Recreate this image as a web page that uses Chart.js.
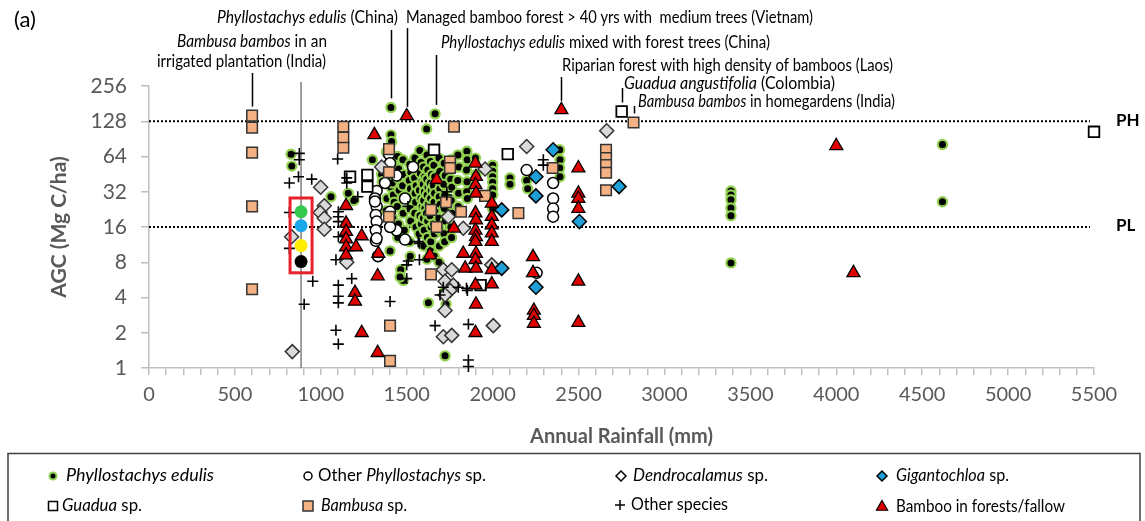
<!DOCTYPE html>
<html>
<head>
<meta charset="utf-8">
<script src="https://cdn.jsdelivr.net/npm/chart.js@4.4.1/dist/chart.umd.min.js"></script>
<style>
  body { margin: 0; background: #fff; }
  #wrap { width: 1145px; height: 521px; position: relative; }
</style>
</head>
<body>
<div id="wrap"><canvas id="myChart"></canvas></div>
<script>
// axis ticks
const xTicks = [0, 500, 1000, 1500, 2000, 2500, 3000, 3500, 4000, 4500, 5000, 5500];
const yTicks = [1, 2, 4, 8, 16, 32, 64, 128, 256];

// [annual rainfall (mm), AGC (Mg C/ha)]
const edulisPts = [
  [827,67],[831,53],[1059,29],[1160,31],[1192,27],[1300,60],
  [1408,168],[1408,98],[1412,86],[1354,45],[1358,39],[1408,35],[1403,10],[1616,110],[1665,148],
  [1465,6.9],[1480,5.6],[1461,6.0],[1626,3.6],[1723,1.27],[1729,3.5],
  [1382,70],[1377,52],[1385,28],[1380,22],
  [1418,58],[1424,46],[1416,38],[1422,30],[1427,26],[1419,19],
  [1447,64],[1453,50],[1449,42],[1456,33],[1445,24],[1452,17],[1448,13],
  [1478,60],[1484,45],[1476,36],[1483,29],[1479,21],[1486,15],
  [1518,55],[1524,47],[1515,40],[1522,34],[1527,28],[1519,23],[1523,18],[1516,12],[1521,9],
  [1548,62],[1553,50],[1546,42],[1555,36],[1549,31],[1552,26],[1547,21],[1554,16],
  [1576,72],[1584,57],[1579,46],[1588,39],[1574,33],[1583,28],[1590,24],[1577,20],[1585,17],[1572,14],
  [1598,52],[1604,43],[1596,37],[1603,32],[1599,27],[1606,23],[1597,19],[1602,15],[1600,11],
  [1618,66],[1623,49],[1617,41],[1624,35],[1619,30],[1626,25],[1615,21],[1622,18],[1620,13],[1618,8.5],
  [1638,58],[1644,45],[1637,38],[1643,33],[1639,28],[1645,24],[1636,20],[1642,16],[1640,12],[1638,10],
  [1658,54],[1663,43],[1656,36],[1662,31],[1659,26],[1664,22],[1657,17],[1661,14],[1660,9],
  [1688,62],[1694,48],[1686,40],[1693,34],[1689,29],[1695,25],[1687,19],[1692,15],[1690,11],[1688,8],
  [1718,56],[1724,44],[1716,37],[1722,30],[1719,23],[1725,18],[1717,14],[1721,12],[1720,4.5],
  [1758,60],[1764,50],[1756,41],[1762,35],[1759,27],[1765,21],[1757,16],[1761,13],
  [1798,66],[1804,52],[1797,40],[1802,31],[1800,24],
  [1850,71],[1852,60],[1848,49],[1851,39],[1849,32],[1853,28],
  [1900,62],[1904,45],
  [2000,54],[2000,48],[2000,43],[2000,38.5],[2000,34],[2000,30],[2000,23],
  [2101,42],[2101,37],[2198,40],[2204,34],
  [2390,73],[2392,60],[2390,51],[2392,43],
  [3387,32.5],[3387,30],[3387,27.4],[3387,23.3],[3387,20],[3387,7.9],
  [4618,81],[4618,26.3]
];
const otherPhylPts = [
  [1397,67],[1403,56],[1403,47],[1441,44],[1374,38],[1325,32.5],[1315,28],[1325,24],[1320,20.3],
  [1325,17.8],[1320,15],[1320,12.2],[1325,12.8],[1403,21.6],[1441,15],[1490,12.5],[1490,28],[1537,52],
  [1333,9],[1403,16],[1315,26.4],[2198,49],[2352,38],[2352,28],[2352,23],[2352,19.6],[2256,6.5]
];
const dendroPts = [
  [999,35],[1020,24.3],[996,21.3],[1020,19],[1020,15.3],[830,13.2],[1151,8],[834,1.38],[1354,52],
  [1742,19.6],[1829,15.6],[1713,6.9],[1762,6.9],[1723,5.5],[1771,5.1],[1752,4.6],[1723,4.2],[1723,3.1],
  [1713,1.85],[1762,1.9],[2198,78],[1995,7.6],[2004,2.3],[2664,106],[1956,50]
];
const gigantoPts = [
  [2352,73],[2252,43],[2252,29.5],[2053,22.4],[2053,7.1],[2252,4.9],[2505,17.8],[2736,35.4]
];
const guaduaPts = [
  [1659,73],[1170,43],[1271,44.6],[1271,35.4],[2088,67],[2751,155],[1930,5.1],[5500,104]
];
const bambusaPts = [
  [600,143],[600,113],[600,69],[600,24],[600,4.7],[1131,115],[1131,93],[1131,76],[1403,2.3],[1403,1.15],
  [1641,22.4],[1641,6.3],[1752,58],[1752,51],[1816,21.6],[1775,115],[1729,26],[1674,16],[1397,19.6],
  [1397,74],[1397,47],[1956,29.5],[2150,21],[2349,51],[2660,73],[2660,62],[2660,54],[2660,46.5],
  [2660,33],[2820,125]
];
const otherSpPts = [
  [875,68],[875,60],[870,43],[817,38],[817,21.3],[817,10.5],[953,5.5],[903,3.5],[947,41],[1098,61],
  [1151,42],[1151,38],[1215,29],[1102,21.6],[1102,19.6],[1102,17.8],[1102,13.2],[1088,8.4],[1180,5.8],
  [1102,5.1],[1102,4.1],[1102,3.6],[1088,2.1],[1102,1.6],[1403,3.7],[1507,24],[1574,11.6],[1574,8.4],
  [1500,7.6],[1500,5.8],[1665,2.3],[1733,32],[1733,30],[1713,4.9],[1509,8.2],[1859,1.17],[1859,1.03],
  [1859,2.36],[1694,4.2],[1800,4.9],[1567,12],[2295,60],[2295,54],[1848,4.8],[1853,4.6]
];
const forestPts = [
  [1312,98],[1147,24.3],[1147,17.2],[1147,14.6],[1147,12.6],[1147,10.8],[1147,9.2],[1238,13.4],[1205,10.8],
  [1335,9.5],[1331,6.1],[1199,4.4],[1199,3.7],[1238,2.0],[1331,1.35],[1500,142],[1674,40.5],[1775,15.6],
  [1829,9.5],[1840,7.1],[1635,9.2],
  [1900,56],[1903,43],[1900,36.6],[1903,31],[1900,21],[1903,18.3],[1900,15],[1903,13.2],[1900,12],
  [1903,9.5],[1900,8.4],[1903,7.1],[1900,5.1],[1903,3.5],[1900,2.0],
  [1995,25.5],[1995,19.6],[1995,16.6],[1995,14.2],[1995,12],[1995,6.9],[1995,5.2],
  [2235,8.9],[2235,6.5],[2240,3.1],[2240,2.8],[2240,2.4],
  [2499,51],[2499,31],[2499,28],[2499,23],[2499,5.5],[2499,2.44],
  [2400,160],[4000,79],[4100,6.5]
];
// coloured points highlighted in the red box
const highlightPts = [[885,21.6],[885,16.4],[885,11.1],[885,8.1]];
const highlightColors = ['#33c84e', '#18a7ea', '#ffee00', '#000000'];

// reference lines PH / PL and the grey rainfall marker
const refValues = [128, 16];
const refLabels = ['PH', 'PL'];
const markerRainfall = 885;

// annotated studies: point the leader line ends on
const annotPts = [[600,143],[1408,168],[1500,142],[1670,148],[2400,160],[2751,155],[2820,125]];
const annotTops = [73, 30, 28, 55, 77, 88, 106];

const toXY = arr => arr.map(p => ({x: p[0], y: p[1]}));

const annotations = [
  {parts: [['Phyllostachys edulis', true], [' (China)', false]], x: 217, y: 18, w: 181},
  {parts: [['Managed bamboo forest > 40 yrs with  medium trees (Vietnam)', false]], x: 406, y: 18, w: 407},
  {parts: [['Bambusa bambos', true], [' in an', false]], x: 177, y: 42, w: 150},
  {parts: [['irrigated plantation (India)', false]], x: 157, y: 62, w: 169},
  {parts: [['Phyllostachys edulis', true], [' mixed with forest trees (China)', false]], x: 441, y: 43, w: 329},
  {parts: [['Riparian forest with high density of bamboos (Laos)', false]], x: 562, y: 66, w: 331},
  {parts: [['Guadua angustifolia', true], [' (Colombia)', false]], x: 624, y: 84, w: 211},
  {parts: [['Bambusa bambos', true], [' in homegardens (India)', false]], x: 638, y: 102, w: 257}
];

const legendItems = [
  {kind: 'circle', fill: '#000', stroke: '#92d050', lw: 2, s: 3.5, parts: [['Phyllostachys edulis', true]], mx: 53, tx: 66, y: 476, w: 148},
  {kind: 'circle', fill: '#fff', stroke: '#000', lw: 1.5, s: 4, parts: [['Other ', false], ['Phyllostachys', true], [' sp.', false]], mx: 308, tx: 318, y: 476, w: 168},
  {kind: 'rectRot', fill: '#fff', stroke: '#000', lw: 1.5, s: 5, parts: [['Dendrocalamus', true], [' sp.', false]], mx: 621, tx: 633, y: 476, w: 135},
  {kind: 'rectRot', fill: '#1f9fd8', stroke: '#000', lw: 1.5, s: 5, parts: [['Gigantochloa', true], [' sp.', false]], mx: 882, tx: 896, y: 476, w: 113},
  {kind: 'rect', fill: '#fff', stroke: '#000', lw: 1.5, s: 4.5, parts: [['Guadua', true], [' sp.', false]], mx: 53, tx: 62, y: 506, w: 80},
  {kind: 'rect', fill: '#f4b183', stroke: '#333', lw: 1.5, s: 5, parts: [['Bambusa', true], [' sp.', false]], mx: 308, tx: 321, y: 506, w: 86},
  {kind: 'cross', fill: '#000', stroke: '#000', lw: 1.5, s: 5, parts: [['Other species', false]], mx: 620, tx: 631, y: 505, w: 97},
  {kind: 'triangle', fill: '#e00000', stroke: '#000', lw: 1.2, s: 6.5, parts: [['Bamboo in forests/fallow', false]], mx: 882, tx: 896, y: 507, w: 169}
];

const FONT = 'Lato';

function partsWidth(ctx, parts, size) {
  let w = 0;
  parts.forEach(p => {
    ctx.font = (p[1] ? 'italic ' : '') + size + 'px ' + FONT;
    w += ctx.measureText(p[0]).width;
  });
  return w;
}
// draw mixed italic / roman text squeezed to a target width (Calibri-like proportions)
function drawFitted(ctx, parts, x, y, size, target) {
  const w = partsWidth(ctx, parts, size);
  const sx = target / w;
  ctx.save();
  ctx.translate(x, y);
  ctx.scale(sx, 1);
  let cx = 0;
  parts.forEach(p => {
    ctx.font = (p[1] ? 'italic ' : '') + size + 'px ' + FONT;
    ctx.fillText(p[0], cx, 0);
    cx += ctx.measureText(p[0]).width;
  });
  ctx.restore();
}
function drawMarker(ctx, kind, x, y, s, fill, stroke, lw) {
  ctx.save();
  ctx.beginPath();
  ctx.fillStyle = fill; ctx.strokeStyle = stroke; ctx.lineWidth = lw;
  if (kind === 'circle') ctx.arc(x, y, s, 0, Math.PI * 2);
  else if (kind === 'rect') ctx.rect(x - s, y - s, 2 * s, 2 * s);
  else if (kind === 'rectRot') { ctx.moveTo(x - s, y); ctx.lineTo(x, y - s); ctx.lineTo(x + s, y); ctx.lineTo(x, y + s); ctx.closePath(); }
  else if (kind === 'triangle') { ctx.moveTo(x, y - s); ctx.lineTo(x + s * 0.866, y + s * 0.5); ctx.lineTo(x - s * 0.866, y + s * 0.5); ctx.closePath(); }
  else if (kind === 'cross') { ctx.moveTo(x - s, y); ctx.lineTo(x + s, y); ctx.moveTo(x, y - s); ctx.lineTo(x, y + s); }
  if (kind !== 'cross') ctx.fill();
  ctx.stroke();
  ctx.restore();
}

const extras = {
  id: 'extras',
  beforeDatasetsDraw(chart) {
    const ctx = chart.ctx, xs = chart.scales.x, ys = chart.scales.y;
    ctx.save();
    // grey vertical line
    const gx = xs.getPixelForValue(markerRainfall);
    ctx.strokeStyle = '#7f7f7f'; ctx.lineWidth = 1.5;
    ctx.beginPath(); ctx.moveTo(gx, 82); ctx.lineTo(gx, ys.bottom); ctx.stroke();
    // dotted PH / PL lines
    ctx.strokeStyle = '#000'; ctx.lineWidth = 2; ctx.setLineDash([2, 2]);
    refValues.forEach(v => {
      const py = ys.getPixelForValue(v);
      ctx.beginPath(); ctx.moveTo(xs.left, py); ctx.lineTo(1090, py); ctx.stroke();
    });
    ctx.restore();
  },
  afterDatasetsDraw(chart) {
    const ctx = chart.ctx, xs = chart.scales.x, ys = chart.scales.y;
    ctx.save();
    // red box round the highlighted points
    ctx.strokeStyle = '#e8202a'; ctx.lineWidth = 3;
    const bx = xs.getPixelForValue(markerRainfall);
    ctx.strokeRect(bx - 11, ys.getPixelForValue(28.3), 22, ys.getPixelForValue(6.5) - ys.getPixelForValue(28.3));

    // PH / PL labels
    ctx.fillStyle = '#000'; ctx.textBaseline = 'middle';
    ctx.font = 'bold 17px ' + FONT;
    refValues.forEach((v, i) => ctx.fillText(refLabels[i], 1116, ys.getPixelForValue(v) - 1));

    // panel label
    drawFitted(ctx, [['(a)', false]], 14, 20, 21, 22);

    // annotations
    annotations.forEach(a => drawFitted(ctx, a.parts, a.x, a.y, 16.5, a.w));
    // leader lines
    ctx.strokeStyle = '#000'; ctx.lineWidth = 1.5;
    annotPts.forEach((p, i) => {
      const px = Math.round(xs.getPixelForValue(p[0])) + 0.5;
      const py = ys.getPixelForValue(p[1]);
      ctx.beginPath(); ctx.moveTo(px, annotTops[i]); ctx.lineTo(px, py - 9); ctx.stroke();
    });

    // legend box
    ctx.strokeStyle = '#404040'; ctx.lineWidth = 1.5;
    ctx.beginPath(); ctx.moveTo(8, 530); ctx.lineTo(8, 453.5); ctx.lineTo(1140, 453.5); ctx.lineTo(1140, 530); ctx.stroke();
    legendItems.forEach(it => {
      drawMarker(ctx, it.kind, it.mx, it.y, it.s, it.fill, it.stroke, it.lw);
      ctx.fillStyle = '#000';
      drawFitted(ctx, it.parts, it.tx, it.y, 17, it.w);
    });
    ctx.restore();
  }
};

const ctx = document.getElementById('myChart');

new Chart(ctx, {
  type: 'scatter',
  data: {
    datasets: [
      {label: 'highlight', data: toXY(highlightPts), pointStyle: 'circle', pointRadius: 6.5,
        backgroundColor: highlightColors, borderColor: highlightColors, borderWidth: 0, order: 0},
      {label: 'Bamboo in forests/fallow', data: toXY(forestPts), pointStyle: 'triangle', pointRadius: 7.5,
        backgroundColor: '#e00000', borderColor: '#000', borderWidth: 1.3, order: 1},
      {label: 'Other species', data: toXY(otherSpPts), pointStyle: 'cross', pointRadius: 5.5,
        backgroundColor: '#000', borderColor: '#000', borderWidth: 1.6, order: 2},
      {label: 'Bambusa sp.', data: toXY(bambusaPts), pointStyle: 'rect', pointRadius: 7.5,
        backgroundColor: '#f4b183', borderColor: '#333', borderWidth: 1.5, order: 3},
      {label: 'Guadua sp.', data: toXY(guaduaPts), pointStyle: 'rect', pointRadius: 7.5,
        backgroundColor: '#fff', borderColor: '#000', borderWidth: 1.8, order: 4},
      {label: 'Gigantochloa sp.', data: toXY(gigantoPts), pointStyle: 'rectRot', pointRadius: 7,
        backgroundColor: '#1f9fd8', borderColor: '#000', borderWidth: 1.5, order: 5},
      {label: 'Dendrocalamus sp.', data: toXY(dendroPts), pointStyle: 'rectRot', pointRadius: 7,
        backgroundColor: '#d9d9d9', borderColor: '#333', borderWidth: 1.5, order: 6},
      {label: 'Other Phyllostachys sp.', data: toXY(otherPhylPts), pointStyle: 'circle', pointRadius: 5.5,
        backgroundColor: '#fff', borderColor: '#000', borderWidth: 1.5, order: 7},
      {label: 'Phyllostachys edulis', data: toXY(edulisPts), pointStyle: 'circle', pointRadius: 4.6,
        backgroundColor: '#000', borderColor: '#92d050', borderWidth: 2.2, order: 8}
    ]
  },
  options: {
    responsive: true,
    maintainAspectRatio: false,
    animation: false,
    layout: { padding: {left: 0, top: 86, right: 51, bottom: 68} },
    datasets: { scatter: { clip: false } },
    plugins: {
      legend: { display: false },
      tooltip: { enabled: false }
    },
    scales: {
      x: {
        type: 'linear', min: 0, max: 5500,
        afterBuildTicks: s => {
          const t = [];
          for (let v = 0; v <= 5500; v += 100) t.push({value: v});
          s.ticks = t;
        },
        afterFit: s => { s.height = 85; },
        ticks: {
          autoSkip: false, maxRotation: 0, padding: 8, color: '#595959',
          font: {family: FONT, size: 20},
          callback: v => xTicks.includes(v) ? String(v) : ''
        },
        grid: { drawOnChartArea: false, tickLength: 7, color: '#bfbfbf', lineWidth: 1.5 },
        border: { color: '#bfbfbf', width: 1.5 },
        title: { display: true, text: 'Annual Rainfall (mm)', color: '#595959',
          font: {family: FONT, size: 20, weight: 'bold'}, padding: {top: 0, bottom: 4} }
      },
      y: {
        type: 'logarithmic', min: 1, max: 256,
        afterBuildTicks: s => { s.ticks = yTicks.map(v => ({value: v})); },
        afterFit: s => { s.width = 149; },
        ticks: {
          autoSkip: false, padding: 14, color: '#595959',
          font: {family: FONT, size: 21},
          callback: v => String(v)
        },
        grid: { drawOnChartArea: false, tickLength: 8, color: '#bfbfbf', lineWidth: 1.5 },
        border: { color: '#bfbfbf', width: 1.5 },
        title: { display: true, text: 'AGC (Mg C/ha)', color: '#595959',
          font: {family: FONT, size: 21, weight: 'bold'}, padding: {top: 47, bottom: 0} }
      }
    }
  },
  plugins: [extras]
});
</script>
</body>
</html>
